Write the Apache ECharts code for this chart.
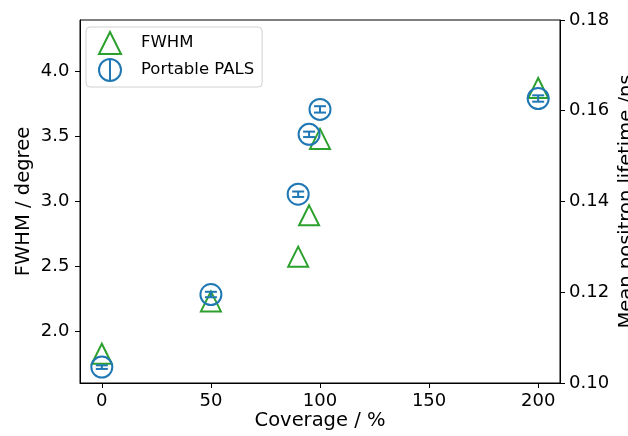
<!DOCTYPE html>
<html>
<head>
<meta charset="utf-8">
<script src="https://cdn.jsdelivr.net/npm/echarts@6/dist/echarts.min.js"></script>
<style>html,body{margin:0;padding:0;background:#fff}#c{width:628px;height:436px}</style>
</head>
<body>
<div id="c"></div>
<script>
const coverage = [0, 50, 90, 95, 100, 200];
const fwhm = [1.827, 2.23, 2.574, 2.892, 3.48, 3.872];
const palsLifetime = [0.1035, 0.1195, 0.1416, 0.1548, 0.1603, 0.1627];
const palsError = [0.0004, 0.0006, 0.0006, 0.0006, 0.0007, 0.0007];
const xTicks = [0, 50, 100, 150, 200];
const leftTicks = [2.0, 2.5, 3.0, 3.5, 4.0];

const FONT = 'DejaVu Sans';
const chart = echarts.init(document.getElementById('c'), null, {renderer: 'canvas'});

const fwhmData = coverage.map((x, i) => [x, fwhm[i]]);
const palsData = coverage.map((x, i) => [x, palsLifetime[i]]);
const errData = coverage.map((x, i) => [x, palsLifetime[i], palsError[i]]);

const axisCommon = {
  axisLine: {show: true, onZero: false, lineStyle: {color: '#000', width: 1}},
  axisTick: {show: true, inside: false, length: 5, lineStyle: {color: '#000', width: 1}},
  splitLine: {show: false},
  axisLabel: {color: '#000', fontFamily: FONT, fontSize: 18, margin: 6},
  nameTextStyle: {color: '#000', fontFamily: FONT, fontSize: 19.5},
  nameMoveOverlap: false
};

chart.setOption({
  animation: false,
  grid: {left: 80, right: 68, top: 20, bottom: 53, show: true, borderColor: '#000', borderWidth: 1,
         containLabel: false, outerBoundsMode: 'none'},
  legend: {
    orient: 'vertical', left: 86, top: 27,
    padding: [4, 8, 5, 12], itemGap: 3,
    itemWidth: 22, itemHeight: 22,
    backgroundColor: 'rgba(255,255,255,0.8)', borderColor: '#d0d0d0', borderWidth: 1, borderRadius: 4,
    textStyle: {color: '#000', fontFamily: FONT, fontSize: 16.5, padding: [0, 0, 0, 15]},
    data: [
      {name: 'FWHM', icon: 'triangle', itemStyle: {color: 'rgba(0,0,0,0)', borderColor: '#2ca02c', borderWidth: 2, opacity: 1}},
      {name: 'Portable PALS', icon: 'path://M0,-10 A10,10 0 1,1 0,10 A10,10 0 1,1 0,-10 Z M0,-10 L0,10',
       itemStyle: {color: 'rgba(0,0,0,0)', borderColor: '#1f77b4', borderWidth: 2, opacity: 1}}
    ]
  },
  xAxis: Object.assign({}, axisCommon, {
    type: 'value', min: -10, max: 210,
    name: 'Coverage / %', nameLocation: 'middle', nameGap: 28,
    axisTick: Object.assign({}, axisCommon.axisTick, {customValues: xTicks}),
    axisLabel: Object.assign({}, axisCommon.axisLabel, {customValues: xTicks, margin: 9})
  }),
  yAxis: [
    Object.assign({}, axisCommon, {
      type: 'value', position: 'left', min: 1.602, max: 4.395,
      name: 'FWHM / degree', nameLocation: 'middle', nameGap: 46, nameRotate: 90,
      axisTick: Object.assign({}, axisCommon.axisTick, {customValues: leftTicks}),
      axisLabel: Object.assign({}, axisCommon.axisLabel, {customValues: leftTicks, margin: 10.5,
        formatter: v => Number(v).toFixed(1)})
    }),
    Object.assign({}, axisCommon, {
      type: 'value', position: 'right', min: 0.10, max: 0.18, interval: 0.02,
      name: 'Mean positron lifetime /ns', nameLocation: 'middle', nameGap: 57, nameRotate: 90,
      axisLabel: Object.assign({}, axisCommon.axisLabel, {margin: 9,
        formatter: v => Number(v).toFixed(2)})
    })
  ],
  series: [
    {
      name: 'FWHM', type: 'scatter', yAxisIndex: 0, data: fwhmData,
      symbol: 'triangle', symbolSize: 20,
      itemStyle: {color: 'rgba(0,0,0,0)', borderColor: '#2ca02c', borderWidth: 2, opacity: 1}, z: 2
    },
    {
      name: 'Portable PALS', type: 'scatter', yAxisIndex: 1, data: palsData,
      symbol: 'circle', symbolSize: 21,
      itemStyle: {color: 'rgba(0,0,0,0)', borderColor: '#1f77b4', borderWidth: 2, opacity: 1}, z: 3
    },
    {
      name: 'PALS error', type: 'custom', yAxisIndex: 1, data: errData, z: 3,
      renderItem: function (params, api) {
        const x = api.value(0), y = api.value(1), e = api.value(2);
        const lo = api.coord([x, y - e]);
        const hi = api.coord([x, y + e]);
        const hw = 6;
        const st = {stroke: '#1f77b4', lineWidth: 2};
        return {
          type: 'group',
          children: [
            {type: 'line', shape: {x1: lo[0], y1: lo[1], x2: hi[0], y2: hi[1]}, style: st},
            {type: 'line', shape: {x1: lo[0] - hw, y1: lo[1], x2: lo[0] + hw, y2: lo[1]}, style: st},
            {type: 'line', shape: {x1: hi[0] - hw, y1: hi[1], x2: hi[0] + hw, y2: hi[1]}, style: st}
          ]
        };
      }
    }
  ]
});
</script>
</body>
</html>
